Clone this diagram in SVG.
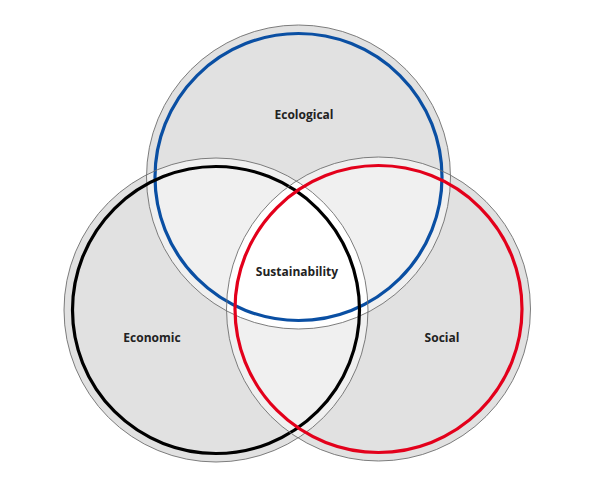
<svg xmlns="http://www.w3.org/2000/svg" width="596" height="487" viewBox="0 0 596 487">
<style>
.disc{fill:#e1e1e1}
.pair{fill:#f0f0f0}
.tri{fill:#ffffff}
.outline{fill:none;stroke:#6e6e6e;stroke-width:0.9}
.ring{fill:none;stroke-width:3.2}
.lbl{font-family:"Open Sans","Noto Sans","Liberation Sans",sans-serif;font-weight:bold;font-size:12px;fill:#222;text-anchor:middle}
</style>
<defs>
<clipPath id="cE"><circle cx="298.5" cy="177" r="152"/></clipPath>
<clipPath id="cC"><circle cx="216" cy="310" r="152"/></clipPath>
<clipPath id="cS"><circle cx="378.5" cy="309" r="152"/></clipPath>
</defs>
<rect width="596" height="487" fill="#ffffff"/>
<g id="fills">
<circle class="disc" cx="298.5" cy="177" r="152"/>
<circle class="disc" cx="216" cy="310" r="152"/>
<circle class="disc" cx="378.5" cy="309" r="152"/>
<circle class="pair" cx="216" cy="310" r="152" clip-path="url(#cE)"/>
<circle class="pair" cx="378.5" cy="309" r="152" clip-path="url(#cE)"/>
<circle class="pair" cx="378.5" cy="309" r="152" clip-path="url(#cC)"/>
<g clip-path="url(#cE)"><circle class="tri" cx="378.5" cy="309" r="152" clip-path="url(#cC)"/></g>
</g>
<g id="ecological">
<circle class="outline" cx="298.5" cy="177" r="152"/>
<circle class="ring" stroke="#0a4fa3" cx="298.5" cy="177" r="143.5"/>
<text class="lbl" x="304" y="119">Ecological</text>
</g>
<g id="economic">
<circle class="outline" cx="216" cy="310" r="152"/>
<circle class="ring" stroke="#000000" cx="216" cy="310" r="143.5"/>
<text class="lbl" x="152" y="342">Economic</text>
</g>
<g id="social">
<circle class="outline" cx="378.5" cy="309" r="152"/>
<circle class="ring" stroke="#e3001b" cx="378.5" cy="309" r="143.5"/>
<text class="lbl" x="442" y="342">Social</text>
</g>
<g id="sustainability">
<text class="lbl" x="297" y="276">Sustainability</text>
</g>
<g id="connectors"/>
</svg>
